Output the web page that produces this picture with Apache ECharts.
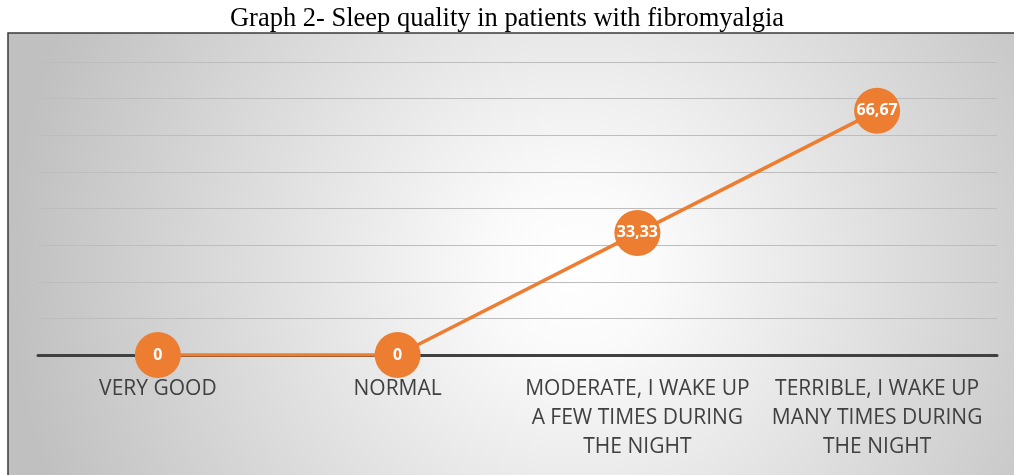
<!DOCTYPE html>
<html>
<head>
<meta charset="utf-8">
<script src="https://cdn.jsdelivr.net/npm/echarts@6/dist/echarts.min.js"></script>
<style>
  html, body { margin: 0; padding: 0; background: #fff; }
  #chart { width: 1014px; height: 475px; }
</style>
</head>
<body>
<div id="chart"></div>
<script>
// sleep quality categories (x axis)
var categories = [
  'VERY GOOD',
  'NORMAL',
  'MODERATE, I WAKE UP\nA FEW TIMES DURING\nTHE NIGHT',
  'TERRIBLE, I WAKE UP\nMANY TIMES DURING\nTHE NIGHT'
];
// percent of patients
var values = [0, 0, 33.33, 66.67];
var titleText = 'Graph 2- Sleep quality in patients with fibromyalgia';

var chartDom = document.getElementById('chart');
var myChart = echarts.init(chartDom);

var option = {
  animation: false,
  title: {
    text: titleText,
    left: 'center',
    top: 1,
    textStyle: {
      fontFamily: 'Liberation Serif',
      fontSize: 26.5,
      fontWeight: 'normal',
      color: '#000'
    }
  },
  graphic: [
    {
      type: 'rect',
      z: -10,
      shape: { x: 8, y: 33, width: 1030, height: 470 },
      style: {
        // white centre fading to grey at the edges
        fill: new echarts.graphic.RadialGradient(0.55, 0.5, 1.2, [
          { offset: 0, color: '#ffffff' },
          { offset: 0.15, color: '#fafafa' },
          { offset: 1, color: '#c0c0c0' }
        ]),
        stroke: '#3a3a3a',
        lineWidth: 1.5
      }
    }
  ],
  grid: { left: 38, right: 17, top: 62, bottom: 120 },
  xAxis: {
    type: 'category',
    data: categories,
    boundaryGap: true,
    axisLine: { lineStyle: { color: '#404040', width: 3 } },
    axisTick: { show: false },
    axisLabel: {
      margin: 20,
      interval: 0,
      color: '#404040',
      fontFamily: 'Open Sans',
      fontSize: 21,
      lineHeight: 29
    }
  },
  yAxis: {
    type: 'value',
    min: 0,
    max: 80,
    interval: 10,
    axisLine: { show: false },
    axisTick: { show: false },
    axisLabel: { show: false },
    splitLine: { lineStyle: { color: '#bdbdbd', width: 1 } }
  },
  series: [
    {
      type: 'line',
      data: values,
      symbol: 'circle',
      symbolSize: 46,
      itemStyle: { color: '#ED7D31' },
      lineStyle: { color: '#ED7D31', width: 3.5 },
      label: {
        show: true,
        position: 'inside',
        color: '#fff',
        fontFamily: 'Open Sans',
        fontWeight: 'bold',
        fontSize: 16,
        formatter: function (p) {
          return String(p.value).replace('.', ',');
        }
      }
    }
  ]
};

option && myChart.setOption(option);
</script>
</body>
</html>
